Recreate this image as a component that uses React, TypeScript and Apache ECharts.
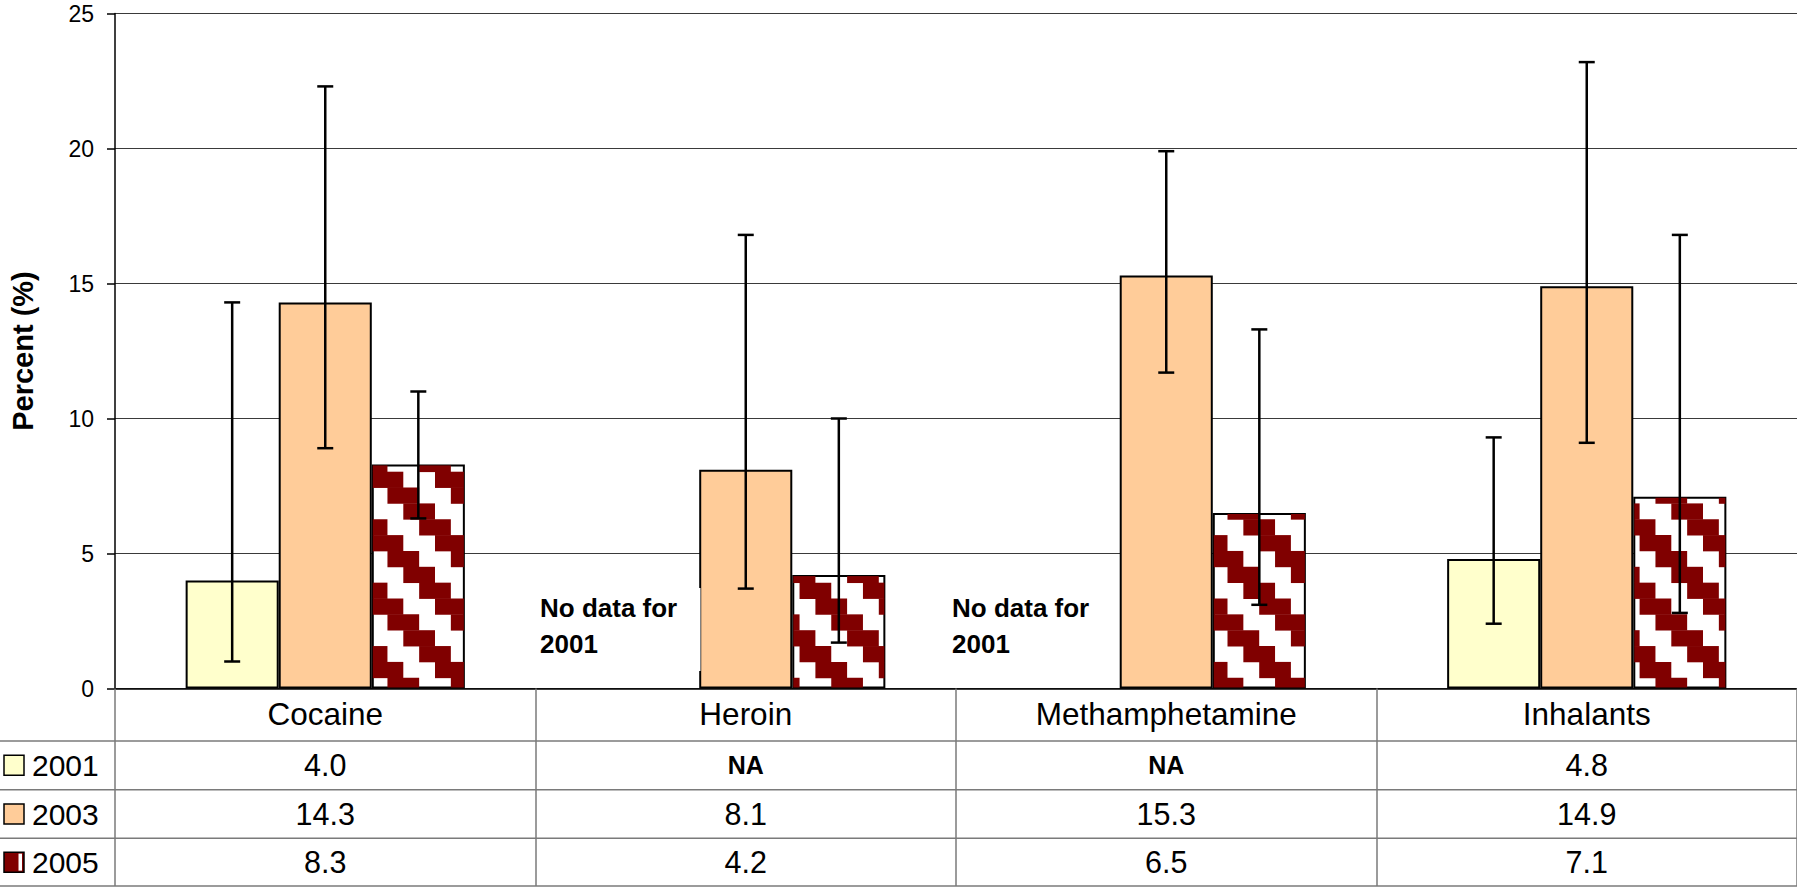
import React, { useEffect, useRef } from "react";
import * as echarts from "echarts";

const categories = ["Cocaine", "Heroin", "Methamphetamine", "Inhalants"];
const years = ["2001", "2003", "2005"];
const values2001: (number | null)[] = [4.0, null, null, 4.8];
const values2003: (number | null)[] = [14.3, 8.1, 15.3, 14.9];
const values2005: (number | null)[] = [8.3, 4.2, 6.5, 7.1];
const low2001: (number | null)[] = [1.0, null, null, 2.4];
const high2001: (number | null)[] = [14.3, null, null, 9.3];
const low2003: (number | null)[] = [8.9, 3.7, 11.7, 9.1];
const high2003: (number | null)[] = [22.3, 16.8, 19.9, 23.2];
const low2005: (number | null)[] = [6.3, 1.7, 3.1, 2.8];
const high2005: (number | null)[] = [11.0, 10.0, 13.3, 16.8];
const yMin = 0;
const yMax = 25;
const yStep = 5;

const W = 1797;
const H = 890;
const GRID_LEFT = 115;
const GRID_TOP = 13.5;
const GRID_BOTTOM_Y = 688.5;
const GAP = 0.336;
const FONT = "'Liberation Sans', Arial, sans-serif";
const ROW_LINES = [741, 789.7, 838.3, 886];
const TABLE_LINE = "#7a7a7a";
// zigzag fill pattern (cell size and phase, page pixels)
const CELL = 15.85;
const PX0 = 371.6;
const PY0 = 471.7;
const PATTERN_RED = "#800000";

export default function App() {
  const ref = useRef<HTMLDivElement>(null);
  useEffect(() => {
    if (!ref.current) return;
    const chart = echarts.init(ref.current, undefined, { renderer: "svg" });

    const seriesVals = [values2001, values2003, values2005];
    const lows = [low2001, low2003, low2005];
    const highs = [high2001, high2003, high2005];
    const errData: number[][] = [];
    lows.forEach((lo, s) => {
      lo.forEach((l, i) => {
        const h = highs[s][i];
        if (l != null && h != null) errData.push([i, s, l, h]);
      });
    });
    const patternData: number[][] = [];
    values2005.forEach((v, i) => {
      if (v != null) patternData.push([i, v]);
    });

    const plotW = W - GRID_LEFT;
    const bandW = plotW / categories.length;
    const catCenter = (i: number) => GRID_LEFT + bandW * (i + 0.5);
    const rowCenters = [0, 1, 2].map((r) => (ROW_LINES[r] + ROW_LINES[r + 1]) / 2);

    const graphics: any[] = [];
    ROW_LINES.forEach((y) => {
      graphics.push({
        type: "line",
        z: 50,
        shape: { x1: 0, y1: y, x2: W, y2: y },
        style: { stroke: TABLE_LINE, lineWidth: 1.5 },
      });
    });
    const keyFills = ["#FFFFCC", "#FFCC99", PATTERN_RED];
    years.forEach((yr, r) => {
      const cy = rowCenters[r];
      graphics.push({
        type: "rect",
        z: 50,
        shape: { x: 4, y: cy - 10, width: 20, height: 20 },
        style: { fill: keyFills[r], stroke: "#000", lineWidth: 1.5 },
      });
      if (r === 2) {
        graphics.push({
          type: "rect",
          z: 51,
          shape: { x: 18.5, y: cy - 8.5, width: 3.5, height: 17 },
          style: { fill: "#ffffff" },
        });
      }
      graphics.push({
        type: "text",
        z: 50,
        x: 32,
        y: cy,
        style: {
          text: yr,
          font: `30px ${FONT}`,
          fill: "#000",
          align: "left",
          verticalAlign: "middle",
        },
      });
      seriesVals[r].forEach((v, i) => {
        const isNA = v == null;
        graphics.push({
          type: "text",
          z: 50,
          x: catCenter(i),
          y: cy,
          style: {
            text: isNA ? "NA" : (v as number).toFixed(1),
            font: isNA ? `bold 25px ${FONT}` : `30.5px ${FONT}`,
            fill: "#000",
            align: "center",
            verticalAlign: "middle",
          },
        });
      });
    });
    graphics.push({
      type: "rect",
      z: 60,
      shape: { x: 536, y: 588, width: 164.5, height: 83 },
      style: { fill: "#ffffff" },
    });
    [
      { x: 540, y: 626 },
      { x: 952, y: 626 },
    ].forEach((p) => {
      graphics.push({
        type: "text",
        z: 61,
        x: p.x,
        y: p.y,
        style: {
          text: "No data for\n2001",
          font: `bold 26px ${FONT}`,
          lineHeight: 36.5,
          fill: "#000",
          align: "left",
          verticalAlign: "middle",
        },
      });
    });

    const barStyle = (fill: any) => ({
      color: fill,
      borderColor: "#000",
      borderWidth: 2,
    });

    chart.setOption({
      animation: false,
      backgroundColor: "#ffffff",
      grid: {
        left: GRID_LEFT,
        right: 0,
        top: GRID_TOP,
        bottom: H - GRID_BOTTOM_Y,
        containLabel: false,
      },
      xAxis: {
        type: "category",
        data: categories,
        axisLine: { show: true, lineStyle: { color: "#000", width: 1.5 } },
        axisTick: {
          show: true,
          inside: false,
          length: ROW_LINES[3] - GRID_BOTTOM_Y,
          lineStyle: { color: TABLE_LINE, width: 1.5 },
        },
        axisLabel: {
          margin: 25,
          fontSize: 31.5,
          fontFamily: FONT,
          color: "#000",
          verticalAlign: "middle",
        },
        splitLine: { show: false },
      },
      yAxis: {
        type: "value",
        min: yMin,
        max: yMax,
        interval: yStep,
        name: "Percent (%)",
        nameLocation: "middle",
        nameGap: 78,
        nameTextStyle: {
          fontSize: 29,
          fontWeight: "bold",
          fontFamily: FONT,
          color: "#000",
        },
        axisLine: { show: true, lineStyle: { color: "#000", width: 1.5 } },
        axisTick: { show: true, length: 8, inside: false, lineStyle: { color: "#000", width: 1.5 } },
        axisLabel: { margin: 21, fontSize: 23, fontFamily: FONT, color: "#000" },
        splitLine: { show: true, lineStyle: { color: "#3a3a3a", width: 1 } },
      },
      series: [
        {
          name: years[0],
          type: "bar",
          data: values2001,
          barGap: "0%",
          barCategoryGap: GAP * 100 + "%",
          itemStyle: barStyle("#FFFFCC"),
          z: 2,
        },
        {
          name: years[1],
          type: "bar",
          data: values2003,
          barGap: "0%",
          barCategoryGap: GAP * 100 + "%",
          itemStyle: barStyle("#FFCC99"),
          z: 2,
        },
        {
          name: years[2],
          type: "bar",
          data: values2005,
          barGap: "0%",
          barCategoryGap: GAP * 100 + "%",
          itemStyle: barStyle("#ffffff"),
          z: 2,
        },
        {
          // zigzag fill inside the 2005 bars
          type: "custom",
          z: 3,
          encode: { x: 0, y: 1 },
          data: patternData,
          renderItem: (params: any, api: any) => {
            const cat = api.value(0);
            const v = api.value(1);
            const pTop = api.coord([cat, v]);
            const pBase = api.coord([cat, 0]);
            const band = api.size([1, 0])[0];
            const bw = (band * (1 - GAP)) / 3;
            const cx = pTop[0] + bw;
            const x0 = cx - bw / 2 + 1;
            const x1 = cx + bw / 2 - 1;
            const y0 = pTop[1] + 1;
            const y1 = pBase[1] - 1;
            const children: any[] = [];
            const iStart = Math.floor((y0 - PY0) / CELL);
            const iEnd = Math.floor((y1 - PY0) / CELL);
            const jStart = Math.floor((x0 - PX0) / CELL) - 2;
            const jEnd = Math.floor((x1 - PX0) / CELL);
            for (let i = iStart; i <= iEnd; i++) {
              for (let j = jStart; j <= jEnd; j++) {
                if ((((j - i) % 4) + 4) % 4 !== 0) continue;
                const rx0 = Math.max(x0, PX0 + j * CELL);
                const rx1 = Math.min(x1, PX0 + (j + 2) * CELL);
                const ry0 = Math.max(y0, PY0 + i * CELL);
                const ry1 = Math.min(y1, PY0 + (i + 1) * CELL + 0.4);
                if (rx1 - rx0 <= 0 || ry1 - ry0 <= 0) continue;
                children.push({
                  type: "rect",
                  shape: { x: rx0, y: ry0, width: rx1 - rx0, height: ry1 - ry0 },
                  style: { fill: PATTERN_RED },
                });
              }
            }
            return { type: "group", children };
          },
        },
        {
          type: "custom",
          z: 10,
          encode: { x: 0, y: [2, 3] },
          data: errData,
          renderItem: (params: any, api: any) => {
            const cat = api.value(0);
            const s = api.value(1);
            const lo = api.value(2);
            const hi = api.value(3);
            const pLo = api.coord([cat, lo]);
            const pHi = api.coord([cat, hi]);
            const band = api.size([1, 0])[0];
            const bw = (band * (1 - GAP)) / 3;
            const x = pLo[0] + (s - 1) * bw;
            const cap = 8;
            const st = { stroke: "#000", lineWidth: 2.5 };
            return {
              type: "group",
              children: [
                { type: "line", shape: { x1: x, y1: pLo[1], x2: x, y2: pHi[1] }, style: st },
                { type: "line", shape: { x1: x - cap, y1: pLo[1], x2: x + cap, y2: pLo[1] }, style: st },
                { type: "line", shape: { x1: x - cap, y1: pHi[1], x2: x + cap, y2: pHi[1] }, style: st },
              ],
            };
          },
        },
      ],
      graphic: graphics,
    });
    return () => chart.dispose();
  }, []);
  return (
    <div
      ref={ref}
      style={{ position: "absolute", left: 0, top: 0, width: W, height: H, background: "#fff" }}
    />
  );
}
